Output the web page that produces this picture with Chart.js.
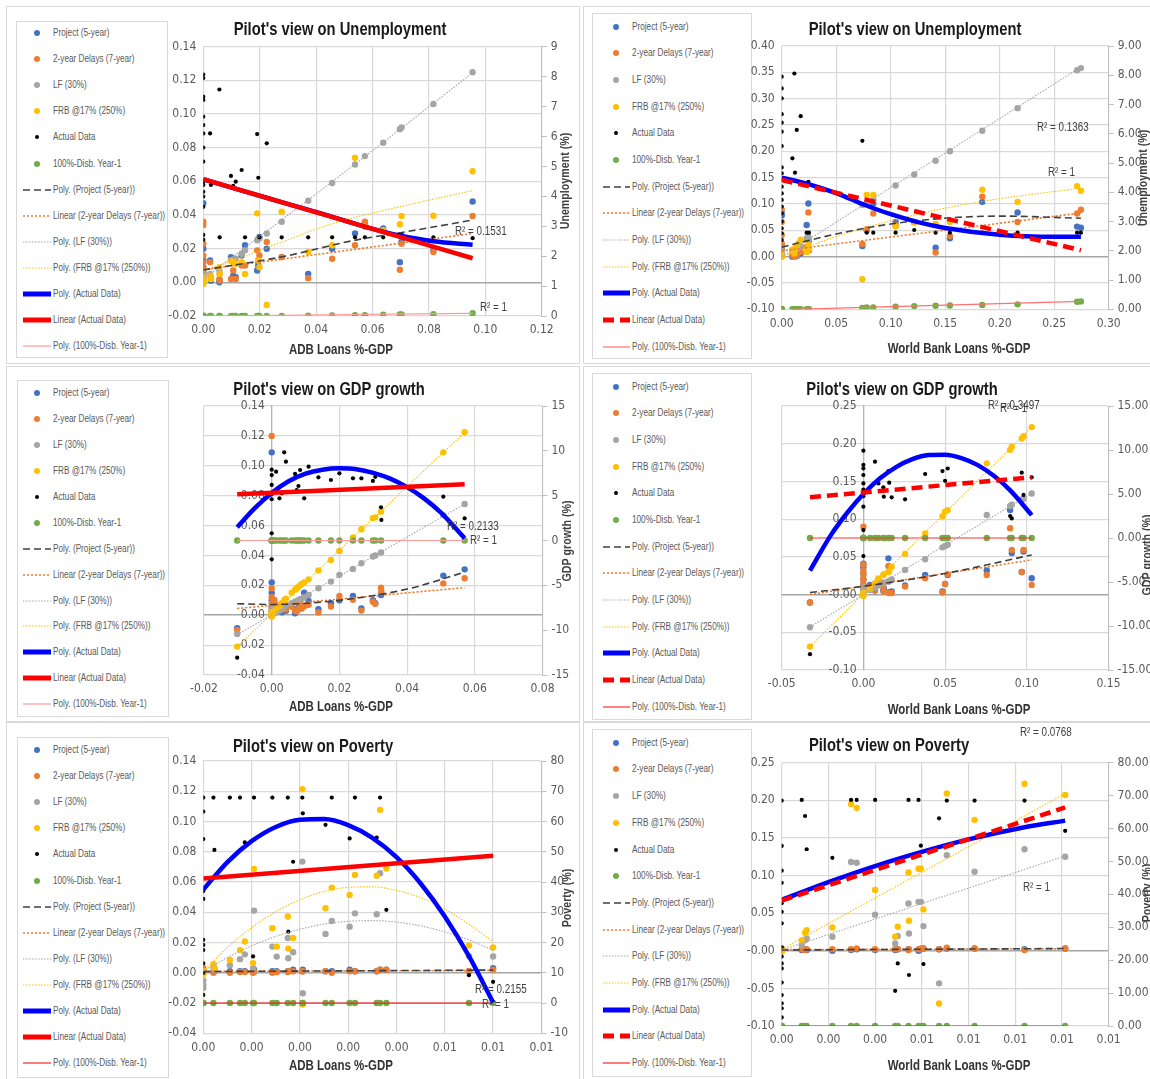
<!DOCTYPE html>
<html><head><meta charset="utf-8">
<script src="https://cdn.jsdelivr.net/npm/chart.js@4.4.1/dist/chart.umd.min.js"></script>
<style>
html,body{margin:0;padding:0;background:#fff;width:1150px;height:1079px;overflow:hidden;position:relative;}
.panel{position:absolute;border:1px solid #d9d9d9;box-sizing:border-box;}
.legend{position:absolute;border:1px solid #d9d9d9;box-sizing:border-box;background:#fff;}
.li{position:absolute;left:0;height:14px;font-family:'Liberation Sans',Arial,sans-serif;font-size:10px;color:#595959;white-space:nowrap;line-height:14px;}
.li span{position:absolute;top:0;}
.li span.tx{transform:scaleX(0.82);transform-origin:0 50%;}
canvas{position:absolute;}
</style></head><body>
<script>
const TICKFONT = "'DejaVu Sans Condensed','Liberation Sans',sans-serif";
const TXTFONT = "'Liberation Sans',Arial,sans-serif";
const seriesNames = ["Project (5-year)","2-year Delays (7-year)","LF (30%)","FRB @17% (250%)","Actual Data","100%-Disb. Year-1","Poly. (Project (5-year))","Linear (2-year Delays (7-year))","Poly. (LF (30%))","Poly. (FRB @17% (250%))","Poly. (Actual Data)","Linear (Actual Data)","Poly. (100%-Disb. Year-1)"];
const seriesColors = ['#4472C4','#ED7D31','#A5A5A5','#FFC000','#000000','#70AD47'];
const N = null;

// ---------- Panel 1: Unemployment vs ADB ----------
const p1x = [0,0,0,0,0,0,0,0,0,0,0,0,0,0,0,0,0.0024,0.0027,0.0057,0.0058,0.0098,0.0106,0.0115,0.0136,0.0148,0.0191,0.0195,0.0199,0.0225,0.0278,0.0372,0.0457,0.0538,0.0573,0.0638,0.0697,0.0703,0.0816,0.0955];
const p1proj = [0.047,0.020,0.013,0.009,0.006,0.004,0.002,0.001,N,N,N,N,N,N,N,N,0.013,0.001,0.000,0.001,0.015,0.004,0.003,0.016,0.022,0.007,0.010,0.027,0.020,0.015,0.005,0.020,0.029,0.035,0.032,0.012,0.024,0.019,0.048];
const p1delay = [0.036,0.034,0.023,0.016,0.012,0.009,0.006,0.004,0.002,N,N,N,N,N,N,N,0.012,0.002,0.002,0.001,0.002,0.007,0.002,0.010,0.010,0.019,0.013,0.016,0.024,0.015,0.0025,0.014,0.022,0.036,0.031,0.0075,0.023,0.018,0.0394];
const p1lf = [0.004,0.003,0.002,0.006,0.001,0.003,0.000,0.002,N,N,N,N,N,N,N,N,0.005,0.003,0.007,0.005,0.013,0.013,0.014,0.017,0.019,0.025,0.026,0.026,0.029,0.036,0.0485,0.059,0.070,0.075,0.083,0.091,0.092,0.106,0.1248];
const p1frb = [0.000,-0.001,0.002,0.001,0.003,0.000,0.002,0.001,N,N,N,N,N,N,N,N,0.004,0.002,0.009,0.005,0.013,0.012,0.011,0.012,0.005,0.041,0.013,0.009,-0.0135,0.042,0.018,0.022,0.074,0.033,0.031,0.0345,0.0394,0.0396,0.066];
const p1act = [8.07,7.95,7.33,7.22,6.66,6.38,6.10,5.63,5.16,4.49,4.38,4.15,3.99,3.65,2.71,2.55,6.10,4.38,7.57,2.63,4.68,4.35,4.49,4.88,2.63,6.08,4.62,2.63,5.77,2.63,2.63,2.63,2.63,2.63,2.63,2.74,2.74,2.63,2.60];
const p1disb = [0,0,0,0,0,0,0,0,N,N,N,N,N,N,N,N,0,0,0,0,0,0,0,0,0,0,0,0,0,0,0.01,0.02,0.03,0.03,0.04,0.05,0.05,0.06,0.09];
const p1tProj = [[0,0.0073],[0.028,0.0152],[0.054,0.0251],[0.07,0.0295],[0.0955,0.037]];
const p1tDelay = [[0,0.0075],[0.0955,0.029]];
const p1tLf = [[0,0.002],[0.0478,0.0625],[0.0955,0.1245]];
const p1tFrb = [[0,0.007],[0.01,0.0125],[0.028,0.024],[0.046,0.035],[0.07,0.045],[0.0955,0.0545]];
const p1tAct = [[0,4.57],[0.014,4.18],[0.028,3.8],[0.042,3.42],[0.056,3.02],[0.07,2.68],[0.0816,2.5],[0.0955,2.38]];
const p1tLin = [[0,4.57],[0.0955,1.93]];
const p1tDisb = [[0,0],[0.0955,0.09]];

// ---------- Panel 2: Unemployment vs World Bank ----------
const p2x = [0,0,0,0,0,0,0,0,0,0,0,0,0,0,0,0,0,0,0,0.0098,0.0116,0.0122,0.0138,0.0153,0.0174,0.0229,0.0245,0.0250,0.074,0.078,0.084,0.1045,0.1216,0.1412,0.1543,0.184,0.2164,0.271,0.2745];
const p2proj = [0.082,0.078,0.020,0.012,0.006,0.002,N,N,N,N,N,N,N,N,N,N,N,N,N,0.000,0.002,0.004,0.001,0.005,0.006,0.060,0.101,0.030,0.020,0.050,0.101,0.066,0.066,0.017,0.035,0.104,0.084,0.057,0.055];
const p2delay = [0.089,0.066,0.041,0.025,0.015,0.008,N,N,N,N,N,N,N,N,N,N,N,N,N,0.003,0.000,0.006,0.003,0.008,0.009,0.019,0.084,0.012,0.024,0.052,0.082,0.060,0.065,0.008,0.039,0.114,0.066,0.082,0.089];
const p2lf = [0.012,0.005,0.002,0.008,0.003,0.001,N,N,N,N,N,N,N,N,N,N,N,N,N,0.010,0.012,0.013,0.015,0.017,0.020,0.035,0.038,0.032,0.098,0.101,0.108,0.135,0.156,0.182,0.200,0.239,0.282,0.354,0.358];
const p2frb = [0.000,0.003,0.001,0.002,0.000,0.001,N,N,N,N,N,N,N,N,N,N,N,N,N,0.013,0.006,0.016,0.019,0.025,0.032,0.009,0.022,0.015,-0.043,0.117,0.117,0.057,0.066,0.062,0.066,0.127,0.104,0.134,0.125];
const p2act = [7.95,7.55,7.21,6.67,6.38,6.07,5.58,4.85,4.65,4.42,4.19,3.96,3.74,3.51,3.28,3.0,2.77,2.6,2.37,5.16,8.06,4.67,6.13,N,6.60,2.62,4.36,2.62,5.76,2.62,2.62,2.62,2.71,2.62,2.62,2.62,2.62,2.62,2.62];
const p2disb = [0,0,0,0,0,0,N,N,N,N,N,N,N,N,N,N,N,N,N,0,0,0,0,0,0,0,0,0,0.05,0.06,0.06,0.09,0.11,0.12,0.13,0.15,0.17,0.26,0.27];
const p2tProj = [[0,0.018],[0.05,0.043],[0.1,0.062],[0.15,0.073],[0.2,0.077],[0.2745,0.073]];
const p2tDelay = [[0,0.011],[0.2745,0.083]];
const p2tLf = [[0,0.0],[0.1372,0.18],[0.2745,0.36]];
const p2tFrb = [[0,0.0],[0.05,0.038],[0.1,0.068],[0.15,0.092],[0.2,0.11],[0.2745,0.13]];
const p2tAct = [[0,4.5],[0.0245,4.28],[0.05,3.97],[0.074,3.6],[0.1,3.25],[0.125,2.98],[0.15,2.78],[0.2,2.55],[0.25,2.48],[0.2745,2.48]];
const p2tLin = [[0,4.42],[0.2745,2.02]];
const p2tDisb = [[0.0098,0.0],[0.2745,0.27]];

// ---------- Panel 3: GDP growth vs ADB ----------
const p3x = [-0.0102,0,0,0,0,0,0,0,0.0008,0.0013,0.0023,0.003,0.0037,0.0042,0.0059,0.0069,0.0074,0.0079,0.0084,0.0089,0.0096,0.0109,0.0138,0.0175,0.020,0.024,0.0265,0.0299,0.0306,0.0323,0.0324,0.0507,0.057];
const p3proj = [-0.0087,0.109,0.022,0.015,0.010,0.006,0.003,N,0.008,0.006,0.004,0.002,0.005,0.003,0.006,0.0013,0.004,0.005,0.007,0.006,0.015,0.0096,0.004,0.008,0.010,0.0129,0.0045,0.010,0.008,0.0135,N,0.0265,0.0307];
const p3delay = [-0.0098,0.120,0.018,0.012,0.008,0.005,0.002,N,0.0103,0.007,0.005,0.0036,0.006,0.004,0.0058,0.003,0.0025,0.004,0.006,0.0045,0.006,0.007,0.0018,0.0058,0.0129,0.0103,0.0031,0.009,0.0076,0.0185,0.016,0.0213,0.0247];
const p3lf = [-0.0125,0.002,0.004,0.001,0.003,0.000,N,N,0.0013,0.002,0.003,0.0047,0.006,0.007,0.008,0.009,0.0095,0.010,0.0107,0.011,0.012,0.0136,0.018,0.0225,0.027,0.031,0.0348,0.0393,0.040,0.042,N,0.067,0.0744];
const p3frb = [-0.021,0.000,-0.001,0.001,0.000,0.002,N,N,0.0025,0.004,0.006,0.008,0.010,0.011,0.015,0.017,0.018,0.019,0.020,0.021,0.022,0.024,0.030,0.037,0.043,0.052,0.0575,0.065,0.0655,0.0693,N,0.109,0.1224];
const p3act = [-13.07,7.9,7.3,6.2,5.15,4.6,0.8,-2.1,N,7.68,4.7,5.26,9.83,8.79,N,7.42,5.63,6.08,7.86,N,4.70,8.23,7.04,6.75,7.49,6.93,6.93,6.64,7.1,3.7,2.29,4.89,2.47];
const p3disb = [0,0,0,0,0,0,N,N,0,0,0,0,0,0,0,0,0,0,0,0,0,0,0,0,0,0,0,0,0,0,N,0,0];
const p3tProj = [[-0.0102,0.0077],[0,0.0072],[0.02,0.01],[0.04,0.0175],[0.057,0.0288]];
const p3tDelay = [[-0.0102,0.0045],[0.057,0.0185]];
const p3tLf = [[-0.0102,-0.013],[0.057,0.0744]];
const p3tFrb = [[-0.0102,-0.021],[0.057,0.1224]];
const p3tAct = [[-0.0102,1.47],[-0.005,3.6],[0,5.3],[0.005,6.6],[0.01,7.45],[0.015,7.9],[0.02,8.05],[0.025,7.95],[0.03,7.55],[0.035,6.9],[0.04,5.95],[0.045,4.7],[0.05,3.1],[0.057,0.24]];
const p3tLin = [[-0.0102,5.15],[0.057,6.26]];
const p3tDisb = [[-0.0102,0],[0.057,0]];

// ---------- Panel 4: GDP growth vs World Bank ----------
const p4x = [-0.0327,0,0,0,0,0,0,0,0,0,0,0.0041,0.0071,0.0092,0.0122,0.0125,0.0153,0.0158,0.0173,0.0255,0.0378,0.0484,0.050,0.0516,0.0755,0.0898,0.0908,0.0969,0.098,0.103];
const p4proj = [-0.0106,0.041,0.036,0.028,0.020,0.012,0.006,N,N,N,N,0.0128,0.006,0.0195,0.005,0.008,0.048,0.003,0.004,0.012,0.026,0.004,0.014,0.026,0.032,0.112,0.055,0.030,0.057,0.0217];
const p4delay = [-0.0106,0.090,0.040,0.032,0.026,0.020,0.014,0.008,0.003,N,N,0.0106,0.005,0.019,0.010,0.004,0.038,0.002,0.002,0.0106,0.0216,0.0027,0.014,0.027,0.026,0.0879,0.059,0.030,0.059,0.0128];
const p4lf = [-0.0434,0.010,0.005,0.002,0.008,0.003,N,N,N,N,N,0.006,0.009,0.012,0.015,0.016,0.017,0.018,0.020,0.0327,0.0468,0.0626,0.0644,0.066,0.1055,0.1175,0.119,0.126,0.127,0.134];
const p4frb = [-0.069,0.000,-0.002,0.001,0.000,0.002,N,N,N,N,N,0.008,0.015,0.0215,0.026,0.027,0.030,0.031,0.037,0.054,0.081,0.104,0.110,0.112,0.174,0.192,0.196,0.207,0.21,0.222];
const p4act = [-13.2,9.92,8.3,7.9,7.16,6.2,5.5,4.75,3.56,0.9,-2.05,N,8.67,6.2,5.76,4.7,7.6,6.29,4.62,4.4,7.27,7.6,6.5,7.9,N,2.5,2.23,7.42,4.89,6.9];
const p4disb = [0,0,0,0,0,0,N,N,N,N,N,0,0,0,0,0,0,0,0,0,0,0,0,0,0,0,0,0,0,0];
const p4tProj = [[-0.0327,0.0027],[0,0.011],[0.05,0.028],[0.103,0.0525]];
const p4tDelay = [[-0.0327,0.0],[0.103,0.046]];
const p4tLf = [[-0.0327,-0.043],[0.035,0.046],[0.103,0.134]];
const p4tFrb = [[-0.0327,-0.069],[0.103,0.222]];
const p4tAct = [[-0.0327,-3.7],[-0.02,0.3],[-0.01,2.84],[0,5.0],[0.01,6.75],[0.02,8.06],[0.03,8.96],[0.04,9.42],[0.05,9.47],[0.06,9.08],[0.07,8.28],[0.08,7.04],[0.09,5.39],[0.103,2.6]];
const p4tLin = [[-0.0327,4.62],[0.103,6.9]];
const p4tDisb = [[-0.0327,0],[0.103,0]];

// ---------- Panel 5: Poverty vs ADB ----------
const p5x = [0,0,0,0,0,0,0,0,0,0,0,0.00021,0.00023,0.00055,0.00076,0.00086,0.00103,0.00105,0.00143,0.00152,0.00175,0.00176,0.00186,0.00205,0.00206,0.00253,0.00266,0.00303,0.00314,0.00359,0.00366,0.00379,0.0055,0.006];
const p5proj = [0.001,0.002,0.001,N,N,N,N,N,N,N,N,0.001,N,0.001,0.001,0.001,0.001,0.002,0.001,0.001,0.001,N,0.002,0.001,0.002,0.001,0.001,0.002,0.001,0.001,0.002,0.002,0.001,0.003];
const p5delay = [0.003,0.001,0.002,N,N,N,N,N,N,N,N,0.000,0.001,0.000,0.0005,0.0005,0.000,0.0005,0.000,0.0005,0.0005,0.001,0.001,0.001,0.001,0.001,0.000,0.001,0.001,0.001,0.002,0.002,0.001,0.002];
const p5lf = [-0.008,-0.010,-0.005,N,N,N,N,N,N,N,N,0.004,0.002,0.005,0.009,0.0122,0.003,0.0411,0.0173,0.0107,0.023,0.0096,0.0136,0.0735,-0.0135,0.0257,0.0343,0.0305,0.0393,0.0387,0.0658,N,0.011,0.0108];
const p5frb = [-0.001,0.000,0.001,N,N,N,N,N,N,N,N,0.0057,0.003,0.0085,0.015,0.0207,0.0064,0.0687,0.0295,0.0173,0.0372,0.016,0.023,0.1213,-0.021,0.0427,0.0563,0.0515,0.0647,0.0642,0.1077,0.069,0.018,0.0167];
const p5act = [67.9,63.3,54.2,37.0,34.4,20.9,19.2,17.5,13.1,10.0,2.7,67.9,50.6,67.9,67.9,53.1,15.4,67.9,67.9,42.9,67.9,23.6,46.7,67.9,62.7,58.9,67.9,54.4,67.9,54.7,67.9,30.8,9.2,7.0];
const p5disb = [0,0,0,N,N,N,N,N,N,N,N,0,N,0,0,0,0,0,0,0,0,N,0,0,0,0,0,0,0,0,0,0,0,0];
const p5tProj = [[0,0.0008],[0.006,0.0018]];
const p5tDelay = [[0,0.001],[0.006,0.0015]];
const p5tLf = [[0,0.001],[0.0005,0.0101],[0.001,0.0178],[0.0015,0.024],[0.002,0.0288],[0.0025,0.0322],[0.003,0.034],[0.0035,0.0345],[0.004,0.0335],[0.0045,0.031],[0.005,0.027],[0.0055,0.0217],[0.006,0.0149]];
const p5tFrb = [[0,0.001],[0.0005,0.0167],[0.001,0.0298],[0.0015,0.0403],[0.002,0.0483],[0.0025,0.0537],[0.003,0.0565],[0.0035,0.0568],[0.004,0.0545],[0.0045,0.0496],[0.005,0.0421],[0.0055,0.0321],[0.006,0.0205]];
const p5tAct = [[0,37.5],[0.0005,46.6],[0.001,53.5],[0.0015,58.2],[0.002,60.6],[0.0025,60.8],[0.003,58.8],[0.0035,54.6],[0.004,48.2],[0.0045,39.5],[0.005,28.6],[0.0055,15.5],[0.006,0.2]];
const p5tLin = [[0,41.2],[0.006,48.7]];
const p5tDisb = [[0,0],[0.006,0]];

// ---------- Panel 6: Poverty vs World Bank ----------
const p6x = [0,0,0,0,0,0,0,0,0,0,0,0,0,0,0,0,0.000857,0.001,0.00107,0.00217,0.00297,0.00321,0.004,0.00486,0.00497,0.00543,0.00545,0.00586,0.00596,0.00607,0.00674,0.00707,0.00826,0.0104,0.01214];
const p6proj = [0.001,0.002,0.000,N,N,N,N,N,N,N,N,N,N,N,N,N,0.001,0.002,0.001,0.000,0.001,0.002,0.001,0.001,0.002,0.002,N,0.000,0.002,0.003,0.002,0.003,0.003,0.002,0.003];
const p6delay = [0.002,0.003,0.001,N,N,N,N,N,N,N,N,N,N,N,N,N,0.002,0.001,0.002,0.002,0.002,0.003,0.002,0.002,0.002,0.001,0.002,0.002,0.003,0.003,0.002,0.004,0.003,0.001,0.003];
const p6lf = [0.001,0.000,0.002,N,N,N,N,N,N,N,N,N,N,N,N,N,0.0075,0.014,0.0164,0.0186,0.118,0.117,0.048,0.0097,0.0195,0.063,0.023,0.065,0.065,0.0328,-0.0433,0.127,0.105,0.135,0.125];
const p6frb = [0.000,0.001,-0.001,N,N,N,N,N,N,N,N,N,N,N,N,N,0.014,0.024,0.0275,0.031,0.195,0.190,0.0807,0.0186,0.0319,0.104,0.040,0.109,0.109,0.055,-0.070,0.209,0.174,0.222,0.207];
const p6act = [68.5,54.7,47.2,43.5,37.3,34.7,31.2,23.9,21.1,19.0,17.5,13.2,9.4,6.9,5.4,2.6,68.7,63.8,53.7,51.1,68.7,68.7,68.7,10.7,19.0,68.7,15.5,68.7,54.8,18.8,63.1,68.5,68.5,68.5,59.3];
const p6disb = [0,0,0,N,N,N,N,N,N,N,N,N,N,N,N,N,0,0,0,0,0,0,0,0,0,0,N,0,0,0,0,0,0,0,0];
const p6tProj = [[0,0.001],[0.01214,0.003]];
const p6tDelay = [[0,0.0015],[0.01214,0.0025]];
const p6tLf = [[0,0.001],[0.01214,0.126]];
const p6tFrb = [[0,0.002],[0.01214,0.209]];
const p6tAct = [[0,38.3],[0.002,43.7],[0.004,48.6],[0.006,52.9],[0.008,56.7],[0.0104,60.4],[0.01214,62.4]];
const p6tLin = [[0,38.1],[0.01214,66.4]];
const p6tDisb = [[0,0],[0.01214,0]];

// ---------- Panel settings ----------
const panels = [
 {x:p1x,s:[p1proj,p1delay,p1lf,p1frb,p1act,p1disb],t:[p1tProj,p1tDelay,p1tLf,p1tFrb,p1tAct,p1tLin,p1tDisb],
  xr:[0,0.12,0.02,2],yr:[-0.02,0.14,0.02,2],y2r:[0,9,1,0],yPos:'left',dashLin:false,disbC:'#FF9A9A',
  cv:[158,8,422,354],area:[203.3,541.7,46.7,316],
  title:["Pilot's view on Unemployment",340,30],xt:["ADB Loans %-GDP",341,350],y2t:["Unemployment (%)",565,181],
  r2:[["R² = 0.1531",455,232],["R² = 1",480,308]],
  lg:[16,21,152,337,12,26.1,20,36,6,34]},
 {x:p2x,s:[p2proj,p2delay,p2lf,p2frb,p2act,p2disb],t:[p2tProj,p2tDelay,p2tLf,p2tFrb,p2tAct,p2tLin,p2tDisb],
  xr:[0,0.30,0.05,2],yr:[-0.10,0.40,0.05,2],y2r:[0,9,1,2],yPos:'left',dashLin:true,disbC:'#FF7070',
  cv:[742,8,410,354],area:[781.7,1108.7,46,309.3],
  title:["Pilot's view on Unemployment",915,30],xt:["World Bank Loans %-GDP",959,349],y2t:["Unemployment (%)",1143,178],
  r2:[["R² = 0.1363",1037,128],["R² = 1",1048,173]],
  lg:[592,13,160,346,13.7,26.67,23,39,10,37]},
 {x:p3x,s:[p3proj,p3delay,p3lf,p3frb,p3act,p3disb],t:[p3tProj,p3tDelay,p3tLf,p3tFrb,p3tAct,p3tLin,p3tDisb],
  xr:[-0.02,0.08,0.02,2],yr:[-0.04,0.14,0.02,2],y2r:[-15,15,5,0],yPos:{x:0},dashLin:false,disbC:'#FF9A9A',
  cv:[158,368,422,352],area:[204,542.5,406,675],
  title:["Pilot's view on GDP growth",329,390],xt:["ADB Loans %-GDP",341,707],y2t:["GDP growth (%)",567,541],
  r2:[["R² = 0.2133",447,527],["R² = 1",470,541]],
  lg:[17,380,152,337,13.3,25.9,19,35,5,33]},
 {x:p4x,s:[p4proj,p4delay,p4lf,p4frb,p4act,p4disb],t:[p4tProj,p4tDelay,p4tLf,p4tFrb,p4tAct,p4tLin,p4tDisb],
  xr:[-0.05,0.15,0.05,2],yr:[-0.10,0.25,0.05,2],y2r:[-15,15,5,2],yPos:{x:0},dashLin:true,disbC:'#FF3030',
  cv:[742,368,410,352],area:[781.7,1108.5,406,670],
  title:["Pilot's view on GDP growth",902,390],xt:["World Bank Loans %-GDP",959,710],y2t:["GDP growth (%)",1147,555],
  r2:[["R² = 0.3497",988,406],["R² = 1",1000,409]],
  lg:[592,373,160,347,13.7,26.67,23,39,10,37]},
 {x:p5x,s:[p5proj,p5delay,p5lf,p5frb,p5act,p5disb],t:[p5tProj,p5tDelay,p5tLf,p5tFrb,p5tAct,p5tLin,p5tDisb],
  xr:[0,0.007,0.001,2],yr:[-0.04,0.14,0.02,2],y2r:[-10,80,10,0],yPos:'left',dashLin:false,disbC:'#FF2020',
  cv:[158,724,422,355],area:[203.3,541.4,761,1033.3],
  title:["Pilot's view on Poverty",313,747],xt:["ADB Loans %-GDP",341,1066],y2t:["Poverty (%)",567,898],
  r2:[["R² = 0.2155",475,990],["R² = 1",482,1005]],
  lg:[17,737,152,341,13,26.1,19,35,5,33]},
 {x:p6x,s:[p6proj,p6delay,p6lf,p6frb,p6act,p6disb],t:[p6tProj,p6tDelay,p6tLf,p6tFrb,p6tAct,p6tLin,p6tDisb],
  xr:[0,0.014,0.002,2],yr:[-0.10,0.25,0.05,2],y2r:[0,80,10,2],yPos:'left',dashLin:true,disbC:'#FF2020',
  cv:[742,724,410,355],area:[781.7,1108.6,762.7,1026],
  title:["Pilot's view on Poverty",889,746],xt:["World Bank Loans %-GDP",959,1066],y2t:["Poverty (%)",1147,893],
  r2:[["R² = 0.0768",1020,733],["R² = 1",1023,888]],
  lg:[592,729,160,348,13.7,26.7,23,39,10,37]}
];
const panelBoxes = [[6,6,574,358],[583,6,572,358],[6,366,574,356],[583,366,572,356],[6,722,574,362],[583,722,572,362]];

function trendStyles(P){
  return [
    {c:'#404040',w:1.6,d:[7,4]},
    {c:'#ED7D31',w:1.6,d:[2.2,1.8]},
    {c:'#A5A5A5',w:1.1,d:[1.5,1.5]},
    {c:'#FFC000',w:1.1,d:[1.5,1.5]},
    {c:'#0000FF',w:4.5,d:[]},
    {c:'#FF0000',w:4.5,d:P.dashLin?[11,6]:[]},
    {c:P.disbC,w:1.2,d:[]}
  ];
}

function buildLegend(P){
  const [bx,by,bw,bh,fy,st,mx,tx,l0,l1] = P.lg;
  const box = document.createElement('div');
  box.className='legend';
  Object.assign(box.style,{left:bx+'px',top:by+'px',width:bw+'px',height:bh+'px'});
  const ts = trendStyles(P);
  seriesNames.forEach((name,i)=>{
    const it = document.createElement('div');
    it.className='li';
    it.style.top = (fy + st*i - 7 - 1)+'px';
    it.style.width = bw+'px';
    if(i<6){
      const r = i===4?2:3;
      const dot = document.createElement('span');
      Object.assign(dot.style,{left:(mx-r)+'px',top:(7-r)+'px',width:(2*r)+'px',height:(2*r)+'px',borderRadius:'50%',background:seriesColors[i]});
      it.appendChild(dot);
    } else {
      const s = ts[i-6];
      const ns='http://www.w3.org/2000/svg';
      const svg = document.createElementNS(ns,'svg');
      svg.setAttribute('width', l1-l0); svg.setAttribute('height', 14);
      svg.style.position='absolute'; svg.style.left=l0+'px'; svg.style.top='0px';
      const ln = document.createElementNS(ns,'line');
      ln.setAttribute('x1',0); ln.setAttribute('x2',l1-l0); ln.setAttribute('y1',7); ln.setAttribute('y2',7);
      ln.setAttribute('stroke',s.c); ln.setAttribute('stroke-width', s.w>2?5:s.w);
      if(s.d.length) ln.setAttribute('stroke-dasharray', s.d.join(','));
      svg.appendChild(ln); it.appendChild(svg);
    }
    const tspan = document.createElement('span');
    tspan.className='tx';
    tspan.style.left = tx+'px';
    tspan.textContent = name;
    it.appendChild(tspan);
    box.appendChild(it);
  });
  document.body.appendChild(box);
}

function toPts(xs, ys){ const out=[]; xs.forEach((x,i)=>{ if(ys[i]!==null && ys[i]!==undefined) out.push({x:x,y:ys[i]}); }); return out; }
function pairPts(a){ return a.map(p=>({x:p[0],y:p[1]})); }
const isZero = c => c.tick && Math.abs(c.tick.value) < 1e-9;

function buildChart(P, idx){
  const [cx,cy,cw,ch] = P.cv;
  const [L,R,T,B] = P.area;
  const cv = document.createElement('canvas');
  cv.width=cw; cv.height=ch;
  Object.assign(cv.style,{left:cx+'px',top:cy+'px',width:cw+'px',height:ch+'px'});
  document.body.appendChild(cv);
  const isLeft = P.yPos==='left';
  const yW = L - cx, y2W = cx + cw - R, xH = cy + ch - B, padT = T - cy;
  const datasets = [];
  P.s.forEach((ys,k)=>{
    datasets.push({type:'scatter',label:seriesNames[k],data:toPts(P.x,ys),yAxisID:k>=4?'y2':'y',
      backgroundColor:seriesColors[k],borderWidth:0,pointRadius:k===4?2.1:3.2,pointHoverRadius:0,order:20-k});
  });
  const ts = trendStyles(P);
  P.t.forEach((arr,k)=>{
    const s = ts[k];
    datasets.push({type:'line',label:seriesNames[6+k],data:pairPts(arr),yAxisID:k>=4?'y2':'y',
      borderColor:s.c,borderWidth:s.w,borderDash:s.d,pointRadius:0,fill:false,
      cubicInterpolationMode:'monotone',borderCapStyle:'butt',order:k===4?2:(k===5?1:4)});
  });
  const tickFont = {family:TICKFONT,size:12};
  const SX = 0.82;
  const texts = [
    {t:P.title[0],x:P.title[1],y:P.title[2],font:"bold 18px "+TXTFONT,color:'#1a1a1a',align:'center'},
    {t:P.xt[0],x:P.xt[1],y:P.xt[2],font:"bold 14px "+TXTFONT,color:'#333333',align:'center'},
    {t:P.y2t[0],x:P.y2t[1],y:P.y2t[2],font:"bold 13px "+TXTFONT,color:'#404040',align:'center',rot:-Math.PI/2},
    {t:P.r2[0][0],x:P.r2[0][1],y:P.r2[0][2],font:"12px "+TXTFONT,color:'#404040',align:'left'},
    {t:P.r2[1][0],x:P.r2[1][1],y:P.r2[1][2],font:"12px "+TXTFONT,color:'#404040',align:'left'}
  ];
  const textPlugin = {id:'fixedText'+idx, afterDraw(chart){
    const ctx = chart.ctx;
    texts.forEach(it=>{
      ctx.save(); ctx.font=it.font; ctx.fillStyle=it.color; ctx.textAlign=it.align; ctx.textBaseline='middle';
      ctx.translate(it.x-cx, it.y-cy); if(it.rot) ctx.rotate(it.rot); ctx.scale(SX,1); ctx.fillText(it.t,0,0); ctx.restore();
    });
  }};
  const yFmt = v => Number(v).toFixed(P.yr[3]) + (isLeft ? '' : '\u00A0\u00A0');
  new Chart(cv, {
    type:'scatter',
    data:{datasets},
    options:{
      responsive:false, animation:false, events:[],
      layout:{padding:{top:padT,left:isLeft?0:yW,right:0,bottom:0}},
      plugins:{legend:{display:false},tooltip:{enabled:false},title:{display:false}},
      scales:{
        x:{type:'linear',min:P.xr[0],max:P.xr[1],
           ticks:{stepSize:P.xr[2],autoSkip:false,maxRotation:0,padding:7,color:'#595959',font:tickFont,callback:v=>Number(v).toFixed(P.xr[3])},
           grid:{color:'#d9d9d9',lineWidth:1.2,drawTicks:false},border:{display:false},
           afterFit(s){ s.height = xH; }},
        y:{type:'linear',position:P.yPos,min:P.yr[0],max:P.yr[1],
           ticks:{stepSize:P.yr[2],autoSkip:false,padding:7,color:'#595959',font:tickFont,callback:yFmt},
           grid:{color:c=>isZero(c)?'#a6a6a6':'#d9d9d9',lineWidth:c=>isZero(c)?1.6:1.2,drawTicks:false},
           border:{display:!isLeft,color:'#b5b5b5',width:1.3},
           afterFit(s){ if(isLeft) s.width = yW; }},
        y2:{type:'linear',position:'right',min:P.y2r[0],max:P.y2r[1],
           ticks:{stepSize:P.y2r[2],autoSkip:false,padding:4,color:'#595959',font:tickFont,callback:v=>Number(v).toFixed(P.y2r[3])},
           grid:{drawOnChartArea:false,color:'#bfbfbf',tickLength:5,lineWidth:1},border:{color:'#bfbfbf'},
           afterFit(s){ s.width = y2W; }}
      }
    },
    plugins:[textPlugin]
  });
}

panelBoxes.forEach(b=>{
  const d=document.createElement('div'); d.className='panel';
  Object.assign(d.style,{left:b[0]+'px',top:b[1]+'px',width:b[2]+'px',height:b[3]+'px'});
  document.body.appendChild(d);
});
panels.forEach((P,i)=>{ buildLegend(P); buildChart(P,i); });
</script>
</body></html>
